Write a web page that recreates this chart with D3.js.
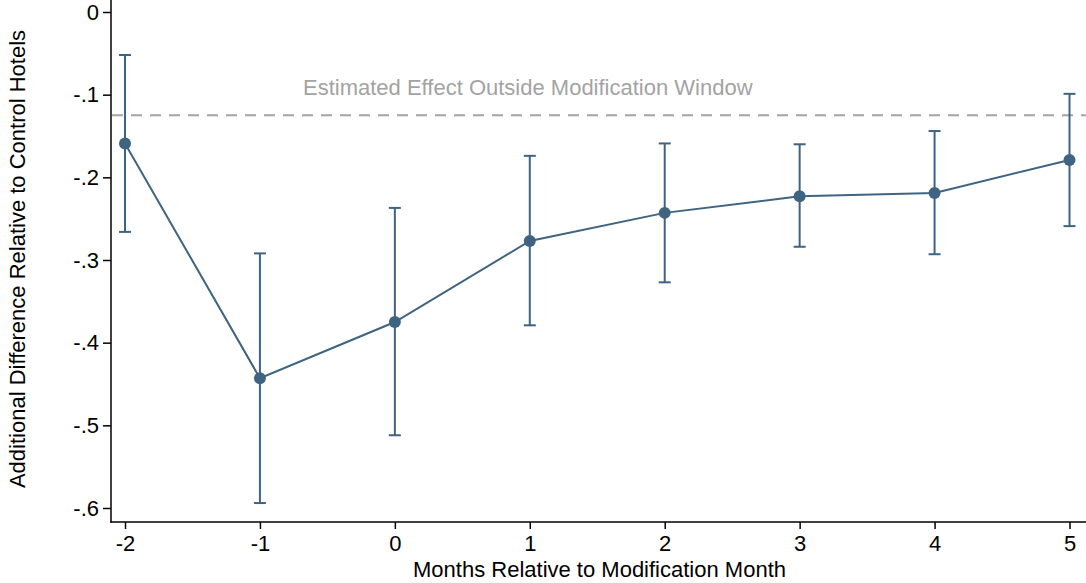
<!DOCTYPE html>
<html>
<head>
<meta charset="utf-8">
<script src="https://cdn.jsdelivr.net/npm/d3@7"></script>
<style>
  html, body { margin: 0; padding: 0; background: #fff; }
  svg { display: block; font-family: "Liberation Sans", Arial, sans-serif; }
</style>
</head>
<body>
<svg id="chart" width="1086" height="583"></svg>
<script>
// Event-study estimates by month relative to the modification month
const months = [-2, -1, 0, 1, 2, 3, 4, 5];
const estimates = [-0.159, -0.443, -0.375, -0.277, -0.243, -0.223, -0.219, -0.179];
const ciUpper = [-0.052, -0.292, -0.237, -0.174, -0.159, -0.160, -0.144, -0.099];
const ciLower = [-0.266, -0.594, -0.512, -0.379, -0.327, -0.284, -0.293, -0.259];
const yTicks = [0, -0.1, -0.2, -0.3, -0.4, -0.5, -0.6];
const yTickLabels = ["0", "-.1", "-.2", "-.3", "-.4", "-.5", "-.6"];
const outsideEffect = -0.125;
const outsideLabel = "Estimated Effect Outside Modification Window";

const W = 1086, H = 583;
const axisX = 111, axisY = 522;
const markColor = "#3e6481";
const refColor = "#a3a3a3";
const fontSize = 22;
const fontFamily = "Liberation Sans, Arial, sans-serif";

const svg = d3.select("#chart");

const x = d3.scaleLinear().domain([-2, 5]).range([125, 1069.5]);
const y = d3.scaleLinear().domain([0, -0.6]).range([12, 508]);

// Axes
const yAxis = d3.axisLeft(y).tickValues(yTicks)
  .tickFormat((d, i) => yTickLabels[i]).tickSize(8).tickPadding(4);
const gy = svg.append("g").attr("transform", `translate(${axisX},0)`).call(yAxis);
gy.select(".domain").remove();
gy.selectAll(".tick line").attr("stroke", "#000").attr("stroke-width", 1.5);
gy.selectAll(".tick text").attr("font-size", fontSize).attr("fill", "#000")
  .attr("font-family", fontFamily);

const xAxis = d3.axisBottom(x).tickValues(months).tickSize(7).tickPadding(6)
  .tickFormat(d => d < 0 ? "-" + Math.abs(d) : String(d));
const gx = svg.append("g").attr("transform", `translate(0,${axisY})`).call(xAxis);
gx.select(".domain").remove();
gx.selectAll(".tick line").attr("stroke", "#000").attr("stroke-width", 1.5);
gx.selectAll(".tick text").attr("font-size", fontSize).attr("fill", "#000")
  .attr("font-family", fontFamily);

// Axis lines
svg.append("line").attr("x1", axisX).attr("x2", axisX).attr("y1", 0).attr("y2", axisY + 0.75)
  .attr("stroke", "#000").attr("stroke-width", 1.5);
svg.append("line").attr("x1", axisX - 0.75).attr("x2", W).attr("y1", axisY).attr("y2", axisY)
  .attr("stroke", "#000").attr("stroke-width", 1.5);

// Reference line for the effect outside the window
svg.append("line").attr("x1", axisX + 1).attr("x2", W)
  .attr("y1", y(outsideEffect)).attr("y2", y(outsideEffect))
  .attr("stroke", refColor).attr("stroke-width", 2).attr("stroke-dasharray", "11,8");
svg.append("text").attr("x", 303).attr("y", y(outsideEffect) - 20)
  .attr("font-size", fontSize).attr("fill", refColor).text(outsideLabel);

// Confidence intervals
const data = months.map((m, i) => ({ m, est: estimates[i], hi: ciUpper[i], lo: ciLower[i] }));
const ci = svg.append("g").attr("stroke", markColor).attr("stroke-width", 2);
ci.selectAll("line.bar").data(data).join("line").attr("class", "bar")
  .attr("x1", d => x(d.m)).attr("x2", d => x(d.m))
  .attr("y1", d => y(d.hi)).attr("y2", d => y(d.lo));
ci.selectAll("line.capHi").data(data).join("line").attr("class", "capHi")
  .attr("x1", d => x(d.m) - 6).attr("x2", d => x(d.m) + 6)
  .attr("y1", d => y(d.hi)).attr("y2", d => y(d.hi));
ci.selectAll("line.capLo").data(data).join("line").attr("class", "capLo")
  .attr("x1", d => x(d.m) - 6).attr("x2", d => x(d.m) + 6)
  .attr("y1", d => y(d.lo)).attr("y2", d => y(d.lo));

// Connecting line and point estimates
svg.append("path").datum(data)
  .attr("fill", "none").attr("stroke", markColor).attr("stroke-width", 2)
  .attr("d", d3.line().x(d => x(d.m)).y(d => y(d.est)));
svg.append("g").selectAll("circle").data(data).join("circle")
  .attr("cx", d => x(d.m)).attr("cy", d => y(d.est)).attr("r", 6)
  .attr("fill", markColor);

// Axis titles
svg.append("text").attr("x", (axisX + W) / 2 + 1).attr("y", 577)
  .attr("text-anchor", "middle").attr("font-size", fontSize).attr("fill", "#000")
  .text("Months Relative to Modification Month");
svg.append("text").attr("transform", `translate(25,259) rotate(-90)`)
  .attr("text-anchor", "middle").attr("font-size", fontSize).attr("fill", "#000")
  .text("Additional Difference Relative to Control Hotels");
</script>
</body>
</html>
